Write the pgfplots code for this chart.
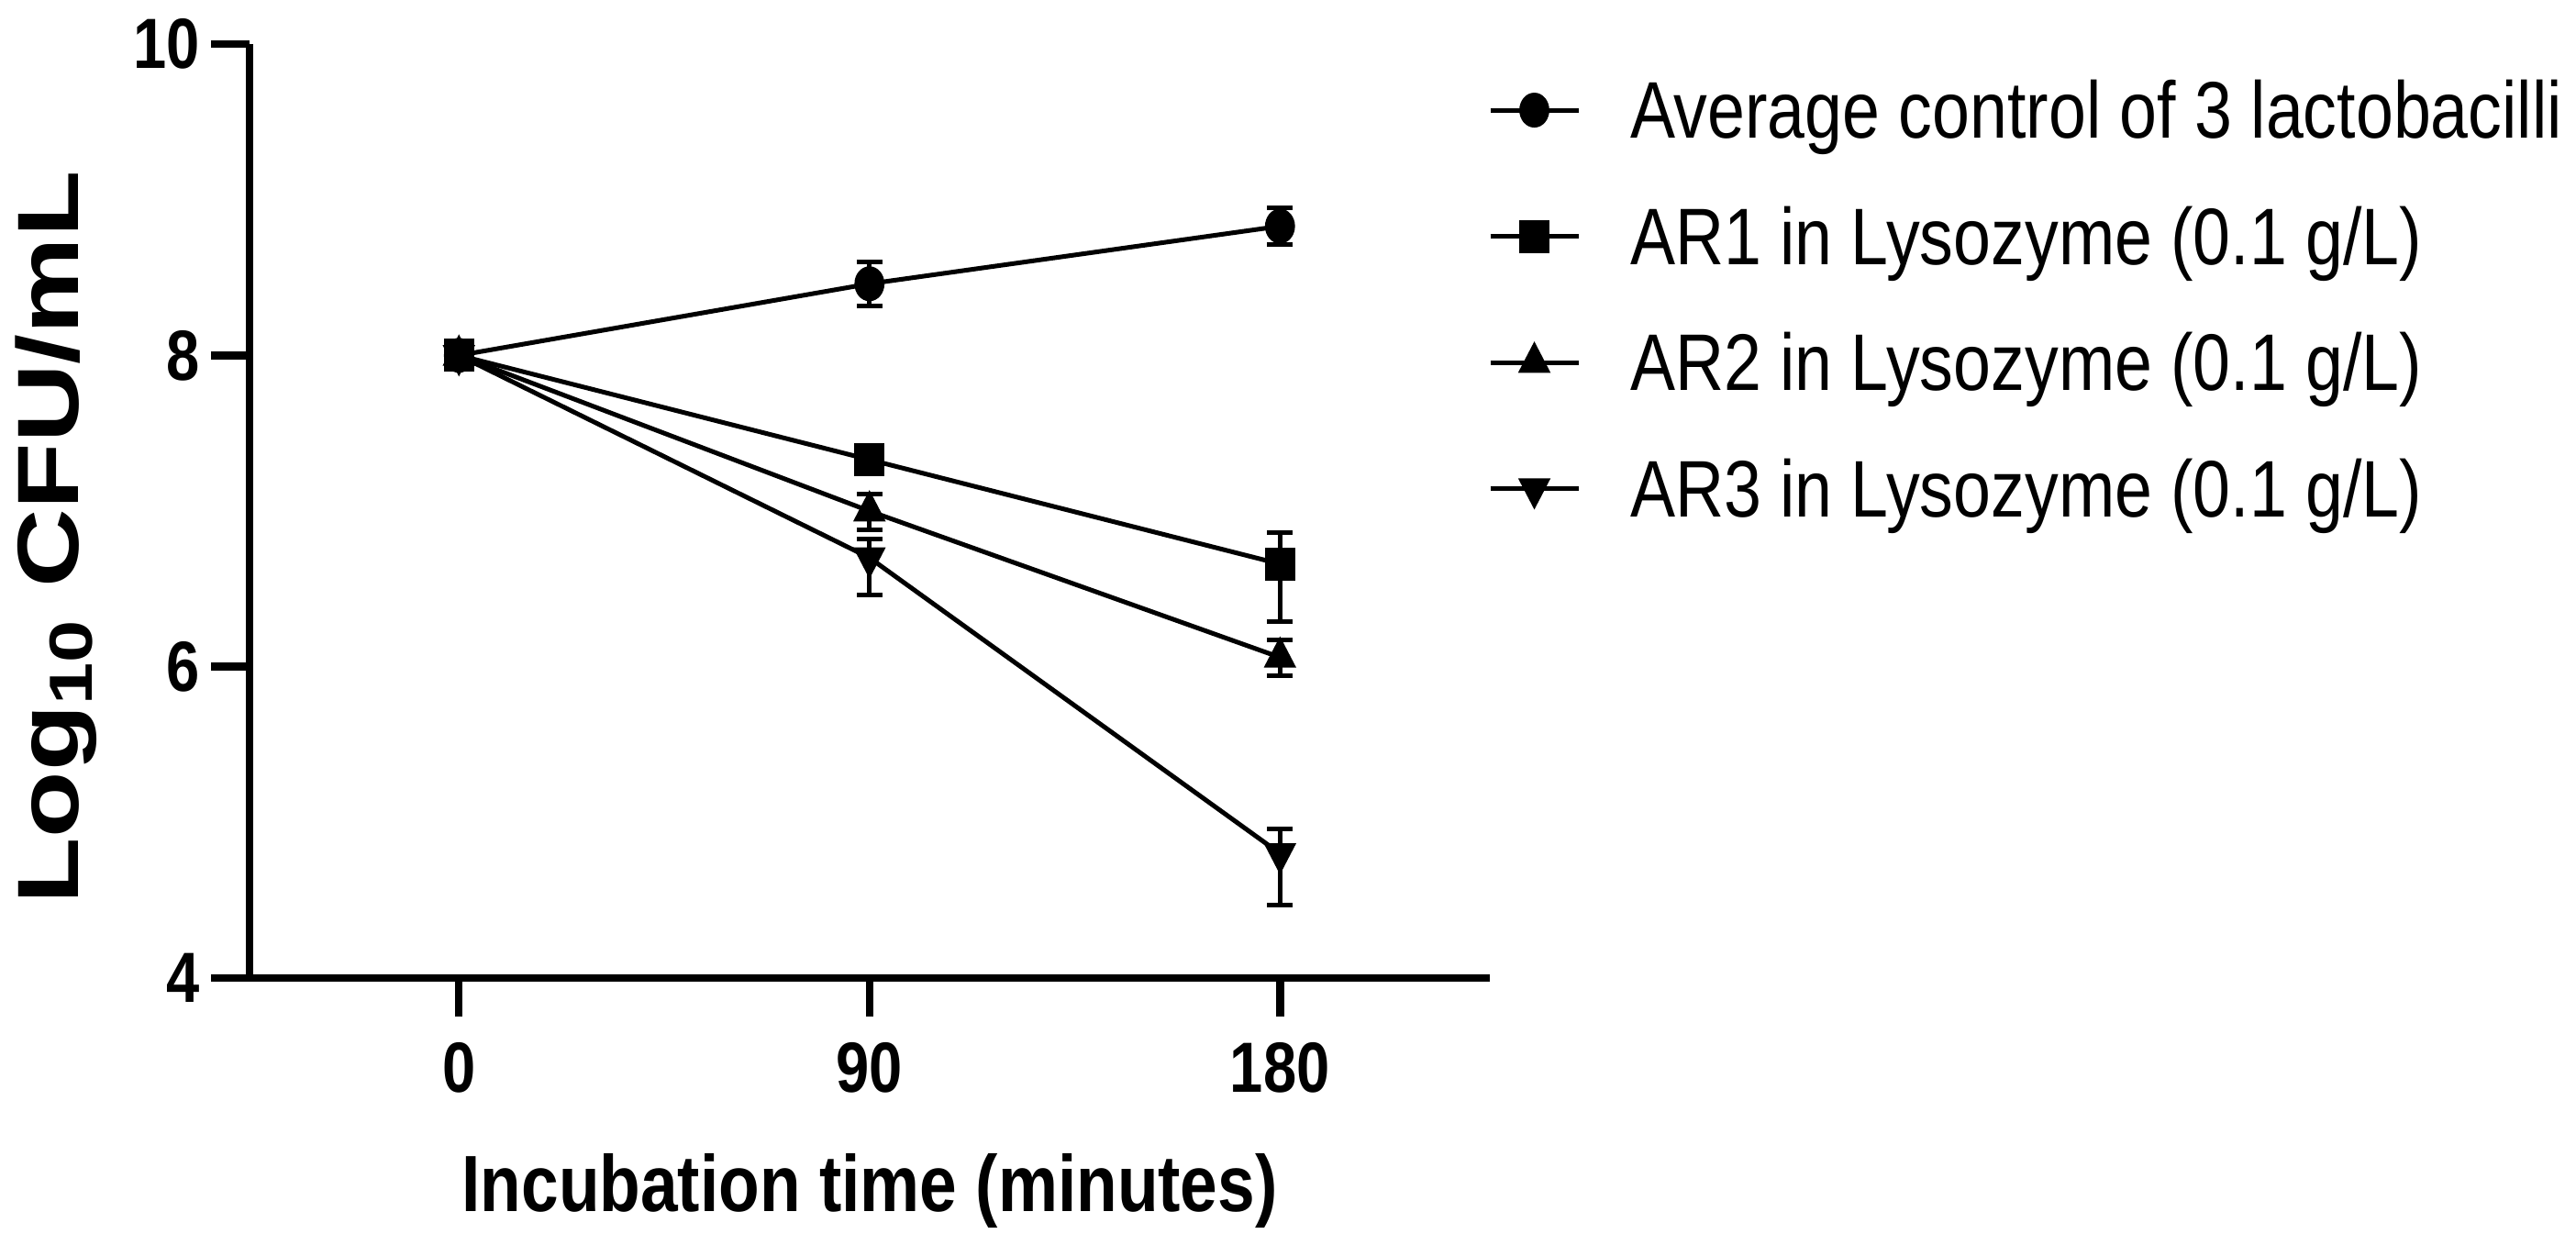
\documentclass[border=0pt]{standalone}
\usepackage{fontspec}
\setmainfont{Liberation Sans}[FakeStretch=0.84]
\newfontfamily\ylabfont{Liberation Sans}
\usepackage{graphicx}
\usepackage{pgfplots}
\usepackage{pgfplotstable}
\pgfplotsset{compat=1.18}

% mean, error up, error down
\pgfplotstableread{
x   y    ep   em
0   8.00 0.00 0.00
90  8.46 0.14 0.14
180 8.83 0.12 0.12
}\ctrl
\pgfplotstableread{
x   y    ep   em
0   8.00 0.00 0.00
90  7.33 0.04 0.04
180 6.66 0.20 0.37
}\arone
\pgfplotstableread{
x   y    ep   em
0   8.00 0.00 0.00
90  7.00 0.11 0.12
180 6.06 0.11 0.12
}\artwo
\pgfplotstableread{
x   y    ep   em
0   8.00 0.00 0.00
90  6.70 0.12 0.24
180 4.80 0.16 0.33
}\arthree

\begin{document}
\begin{tikzpicture}
\path[use as bounding box] (0,0) rectangle (561.6bp,271.4bp);
\begin{axis}[
  at={(54.4bp,58.2bp)}, anchor=south west,
  scale only axis, width=270.4bp, height=203.6bp,
  xmin=-45.9, xmax=226, ymin=4, ymax=10,
  xtick={0,90,180}, ytick={4,6,8,10},
  minor tick num=0,
  axis x line=bottom, axis y line=left,
  axis line style={-, line width=1.7bp},
  tick align=outside, major tick length=8.4bp,
  tick style={line width=1.7bp, black},
  /pgf/number format/assume math mode=true,
  ticklabel style={font=\fontsize{15.5bp}{16bp}\selectfont\bfseries, inner sep=0pt},
  xticklabel style={yshift=-5.4bp},
  yticklabel style={xshift=-2.2bp},
  xlabel={\bfseries Incubation time (minutes)},
  xlabel style={font=\fontsize{17.4bp}{18bp}\selectfont, at={(axis description cs:0.5,0)}, anchor=base, yshift=-50.8bp, inner sep=0pt},
  ylabel={\scalebox{1}[0.8]{\ylabfont\bfseries Log\textsubscript{10} CFU/mL}},
  ylabel style={font=\fontsize{23.7bp}{24bp}\selectfont, at={(axis description cs:-0.1376,0.4715)}, anchor=base, inner sep=0pt},
  clip=false,
  every axis plot/.append style={black, line width=1bp,
    error bars/y dir=both, error bars/y explicit,
    error bars/error bar style={line width=1bp, solid},
    error bars/error mark options={rotate=90, mark size=2.8bp, line width=1bp}},
  legend image code/.code={\draw[#1, mark repeat=2, mark phase=2] plot coordinates {(0bp,0bp) (9.6bp,0bp) (19.2bp,0bp)};},
  legend cell align=left,
  legend style={at={(axis description cs:1,1)}, anchor=north west, xshift=-0.4bp, yshift=-8.3bp,
    draw=none, fill=none, inner sep=0pt, outer sep=0pt,
    row sep=15.3bp, column sep=10.8bp,
    font=\fontsize{17.5bp}{18bp}\selectfont,
    nodes={inner sep=0pt, text height=12.2bp, text depth=0pt}},
]
\addplot[mark=*, mark options={solid, mark size=3.3bp, xscale=0.84}]
  table[x=x, y=y, y error plus=ep, y error minus=em] {\ctrl};
\addlegendentry{Average control of 3 lactobacilli}
\addplot[mark=square*, mark options={solid, mark size=3.1bp, xscale=0.9}]
  table[x=x, y=y, y error plus=ep, y error minus=em] {\arone};
\addlegendentry{AR1 in Lysozyme (0.1 g/L)}
\addplot[mark=triangle*, mark options={solid, mark size=3.5bp, xscale=0.9}]
  table[x=x, y=y, y error plus=ep, y error minus=em] {\artwo};
\addlegendentry{AR2 in Lysozyme (0.1 g/L)}
\addplot[mark=triangle*, mark options={solid, mark size=3.5bp, xscale=0.9, rotate=180}]
  table[x=x, y=y, y error plus=ep, y error minus=em] {\arthree};
\addlegendentry{AR3 in Lysozyme (0.1 g/L)}
% AR1 marker at t=0 sits on top of the others
\addplot[forget plot, only marks, mark=square*, mark options={solid, mark size=3.1bp, xscale=0.9}]
  coordinates {(0,8.00)};
\end{axis}
\end{tikzpicture}
\end{document}
